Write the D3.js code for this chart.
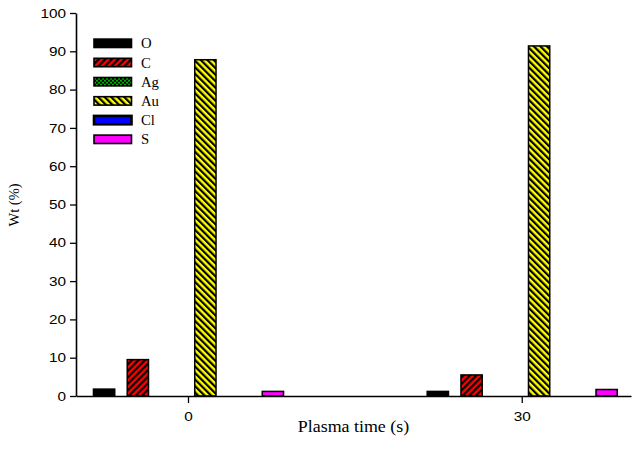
<!DOCTYPE html>
<html>
<head>
<meta charset="utf-8">
<script src="https://cdn.jsdelivr.net/npm/d3@7"></script>
<style>
  html, body { margin: 0; padding: 0; background: #fff; }
  svg { display: block; }
</style>
</head>
<body>
<svg id="chart" width="634" height="456"></svg>
<script>
// Elemental composition (wt %) at each plasma treatment time
const times = ["0", "30"];
const elements = ["O", "C", "Ag", "Au", "Cl", "S"];
const wtAt0 = [1.8, 9.5, 0, 87.8, 0, 1.2];
const wtAt30 = [1.2, 5.5, 0, 91.4, 0, 1.7];
const yTicks = [0, 10, 20, 30, 40, 50, 60, 70, 80, 90, 100];

const series = [wtAt0, wtAt30];
const rows = times.map((t, i) => ({
  time: t,
  values: elements.map((e, j) => ({ element: e, value: series[i][j] }))
}));

const svg = d3.select("#chart");
const defs = svg.append("defs");

// Hatch / dot fills for the patterned elements
function stripes(id, color, angle) {
  const p = defs.append("pattern")
    .attr("id", id)
    .attr("patternUnits", "userSpaceOnUse")
    .attr("width", 4.6).attr("height", 4.6)
    .attr("patternTransform", `rotate(${angle})`);
  p.append("rect").attr("width", 4.6).attr("height", 4.6).attr("fill", color);
  p.append("rect").attr("width", 2.2).attr("height", 4.6).attr("fill", "#000");
}
stripes("hatchC", "#ff0000", 45);
stripes("hatchAu", "#ffff00", -45);
const dots = defs.append("pattern")
  .attr("id", "dotsAg")
  .attr("patternUnits", "userSpaceOnUse")
  .attr("width", 4).attr("height", 4);
dots.append("rect").attr("width", 4).attr("height", 4).attr("fill", "#000");
dots.append("circle").attr("cx", 1).attr("cy", 1).attr("r", 0.9).attr("fill", "#00ff00");
dots.append("circle").attr("cx", 3).attr("cy", 3).attr("r", 0.9).attr("fill", "#00ff00");

const fills = {
  O: "#000000",
  C: "url(#hatchC)",
  Ag: "url(#dotsAg)",
  Au: "url(#hatchAu)",
  Cl: "#0000ff",
  S: "#ff00ff"
};

const y = d3.scaleLinear().domain([0, 100]).range([396, 13]);
const x0 = d3.scaleBand().domain(times).range([76, 631])
  .paddingInner(0.393).paddingOuter(0.028).align(0.6);
const x1 = d3.scaleBand().domain(elements).range([0, x0.bandwidth()])
  .paddingInner(0.37).paddingOuter(0.185);

// Bars
const groups = svg.append("g").selectAll("g")
  .data(rows).join("g")
  .attr("transform", d => `translate(${x0(d.time)},0)`);

groups.selectAll("rect")
  .data(d => d.values.filter(v => v.value > 0))
  .join("rect")
  .attr("x", d => x1(d.element))
  .attr("width", x1.bandwidth())
  .attr("y", d => y(d.value))
  .attr("height", d => y(0) - y(d.value))
  .attr("fill", d => fills[d.element])
  .attr("stroke", "#000")
  .attr("stroke-width", 1.5);

// Axes (labels are set in a slightly widened face)
const sansFont = "'Liberation Sans', Arial, sans-serif";
const serifFont = "'Liberation Serif', 'Times New Roman', serif";

const yAxis = svg.append("g")
  .attr("transform", "translate(76,0)")
  .call(d3.axisLeft(y).tickValues(yTicks).tickSize(6).tickSizeOuter(0).tickPadding(4));
yAxis.selectAll(".tick text")
  .attr("x", 0)
  .attr("transform", "translate(-10,0) scale(1.18,1)");

const xAxis = svg.append("g")
  .attr("transform", "translate(0,396)")
  .call(d3.axisBottom(x0).tickSize(7).tickSizeOuter(0).tickPadding(9));
xAxis.selectAll(".tick text")
  .attr("transform", "scale(1.18,1)");

[yAxis, xAxis].forEach(a => {
  a.select(".domain").attr("stroke", "#000").attr("stroke-width", 1.6);
  a.selectAll(".tick line").attr("stroke", "#000").attr("stroke-width", 1.3);
  a.selectAll(".tick text")
    .attr("fill", "#000")
    .style("font-family", sansFont)
    .style("font-size", "13px");
});

// Axis titles
svg.append("text")
  .attr("transform", "translate(353.5,432) scale(1.12,1)")
  .attr("text-anchor", "middle")
  .style("font-family", serifFont)
  .style("font-size", "16px")
  .text("Plasma time (s)");

svg.append("text")
  .attr("transform", "translate(19,205) rotate(-90)")
  .attr("text-anchor", "middle")
  .style("font-family", serifFont)
  .style("font-size", "14.5px")
  .text("Wt (%)");

// Legend
const legend = svg.append("g").selectAll("g")
  .data(elements).join("g")
  .attr("transform", (d, i) => `translate(94,${43.3 + i * 19.2})`);

legend.append("rect")
  .attr("x", 0).attr("y", -4.2)
  .attr("width", 37.5).attr("height", 8.4)
  .attr("fill", d => fills[d])
  .attr("stroke", "#000")
  .attr("stroke-width", d => d === "Cl" ? 2.6 : 1.6);

legend.append("text")
  .attr("transform", "translate(47,5) scale(1.05,1)")
  .style("font-family", serifFont)
  .style("font-size", "14px")
  .text(d => d);
</script>
</body>
</html>
